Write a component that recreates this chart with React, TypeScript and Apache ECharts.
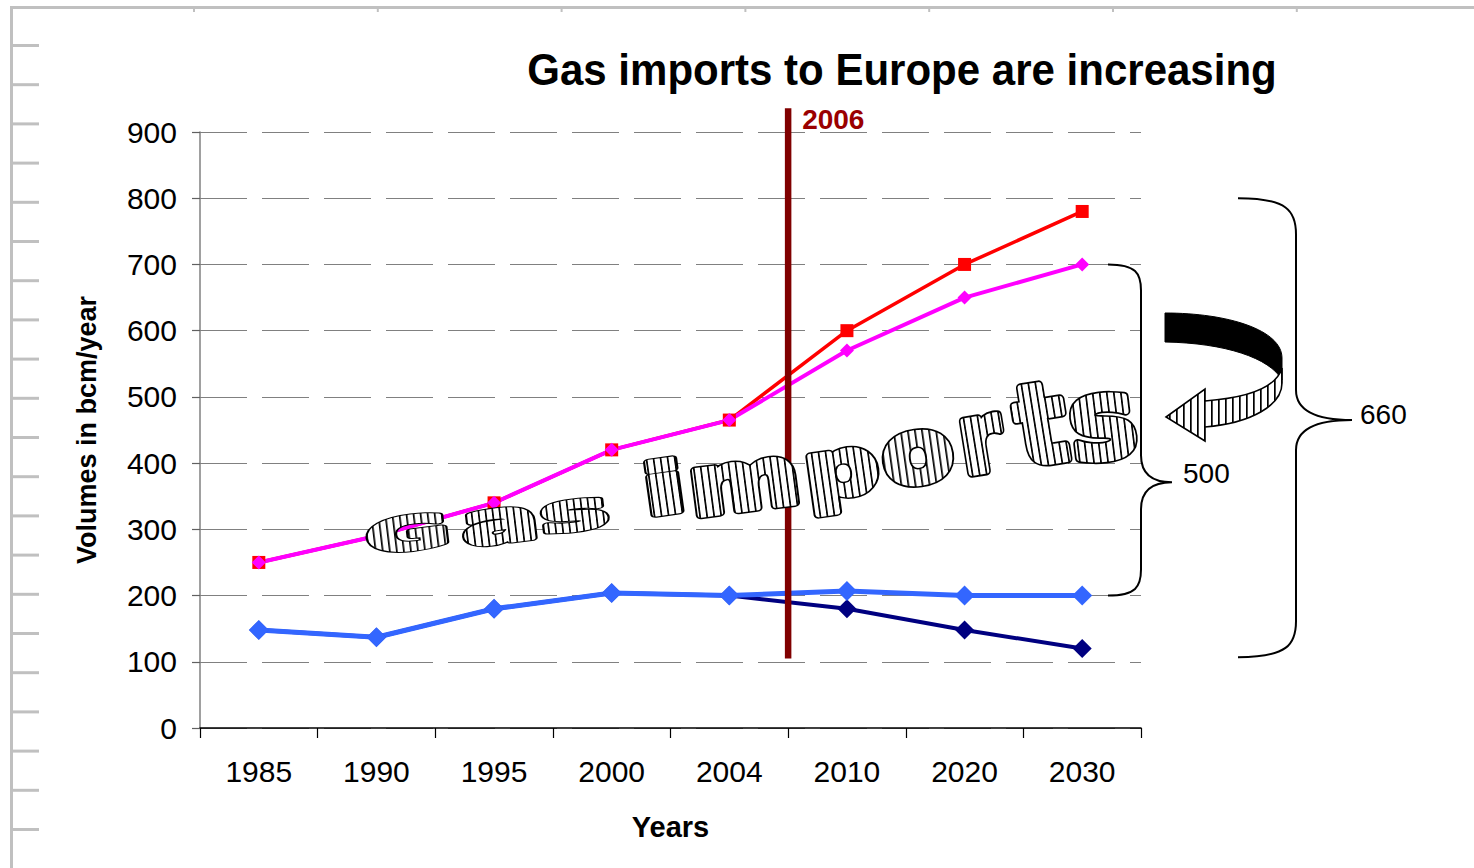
import React, { useEffect, useRef } from "react";
import * as echarts from "echarts";

// ---------- data ----------
const years = ["1985", "1990", "1995", "2000", "2004", "2010", "2020", "2030"];
const demandHigh = [250, 290, 340, 420, 465, 600, 700, 780]; // red squares
const demandLow = [250, 290, 340, 420, 465, 570, 650, 700]; // magenta diamonds
const productionLow = [148, 137, 180, 204, 200, 180, 148, 120]; // navy diamonds
const productionHigh = [148, 137, 180, 204, 200, 207, 200, 200]; // blue diamonds
const yMin = 0;
const yMax = 900;
const yInterval = 100;
const markerYear = "2006";
const markerRange = [105, 936]; // value span of the 2006 line
const innerBrace = { from: 200, to: 700, tip: 371, label: "500" };
const outerBrace = { from: 107, to: 800, tip: 465, label: "660" };
const titleText = "Gas imports to Europe are increasing";
const wordArt = "Gas imports";

// ---------- layout ----------
const W = 1474;
const H = 868;
const GL = 200;
const GT = 132;
const GW = 941;
const GH = 596;
const yPix = (v: number) => GT + GH * (1 - (v - yMin) / (yMax - yMin));
const catBoundary = (i: number) => GL + (GW / years.length) * i;

const FONT = "'Liberation Sans', Arial, sans-serif";
const SVGNS = "http://www.w3.org/2000/svg";

function bracePath(xEnd: number, xSpine: number, xTip: number, yTop: number, yBot: number, tipY: number, r: number, rt: number) {
  const dx = xSpine - xEnd;
  const dt = xTip - xSpine;
  return [
    `M${xEnd} ${yTop}`,
    `C${xEnd + dx * 0.85} ${yTop} ${xSpine} ${yTop + r * 0.35} ${xSpine} ${yTop + r}`,
    `L${xSpine} ${tipY - rt}`,
    `C${xSpine} ${tipY - rt * 0.3} ${xSpine + dt * 0.35} ${tipY} ${xTip} ${tipY}`,
    `C${xSpine + dt * 0.35} ${tipY} ${xSpine} ${tipY + rt * 0.3} ${xSpine} ${tipY + rt}`,
    `L${xSpine} ${yBot - r}`,
    `C${xSpine} ${yBot - r * 0.35} ${xEnd + dx * 0.85} ${yBot} ${xEnd} ${yBot}`,
  ].join(" ");
}

const innerD = bracePath(1108, 1141, 1172, yPix(innerBrace.to), yPix(innerBrace.from), yPix(innerBrace.tip), 26, 27);
const outerD = bracePath(1238, 1296, 1352, yPix(outerBrace.to), yPix(outerBrace.from), yPix(outerBrace.tip), 36, 30);
const arrowBackD = "M1165 313 C1228 313 1282 330 1282 358 L1282 380 C1270 358 1225 343 1165 342 Z";
const arrowFrontD =
  "M1282 368 C1276 388 1246 398 1205 401 L1205 389 L1166 417 L1205 441 L1205 427 C1252 423 1282 405 1282 383 Z";

echarts.graphic.registerShape("braceInner", echarts.graphic.extendPath(innerD, {}) as any);
echarts.graphic.registerShape("braceOuter", echarts.graphic.extendPath(outerD, {}) as any);
echarts.graphic.registerShape("arrowBack", echarts.graphic.extendPath(arrowBackD, {}) as any);
echarts.graphic.registerShape("arrowFront", echarts.graphic.extendPath(arrowFrontD, {}) as any);

const STRIPE = 7;
const STRIPE_INK = 1.7;
const stripeSvg = `<svg xmlns='http://www.w3.org/2000/svg' width='${STRIPE}' height='${STRIPE}'><rect width='${STRIPE}' height='${STRIPE}' fill='#ffffff'/><rect x='0' y='0' width='${STRIPE_INK}' height='${STRIPE}' fill='#000000'/></svg>`;
const stripeUrl = "data:image/svg+xml;charset=utf-8," + encodeURIComponent(stripeSvg);
const stripes = {
  image: stripeUrl,
  repeat: "repeat",
  imageWidth: STRIPE,
  imageHeight: STRIPE,
};

// per-letter placement of the word-art: [cx, cy, fontSize, scaleX, rotation]
const wordArtLayout: number[][] = [
  [408, 534, 44, 2.3, 0.12],
  [500, 522, 57, 2.0, 0.12],
  [574, 512, 51, 2.25, 0.12],
  [0, 0, 0, 0, 0],
  [664, 489, 70, 1.85, 0.14],
  [744, 481, 82, 1.31, 0.13],
  [841, 468, 78, 1.33, 0.14],
  [917, 452, 88, 1.18, 0.14],
  [980, 438, 95, 0.9, 0.16],
  [1041, 424, 110, 0.95, 0.16],
  [1102, 419, 110, 1.03, 0.12],
];
const letterKey = (i: number) => "#ffff" + (0xc0 + i).toString(16);
const haloKey = (i: number) => "#0000" + (0x10 + i).toString(16);
const OUTLINE = 9.5; // black halo (under layer)
const GROW = 6; // striped stroke thickening (upper layer)

function applyStripes(root: HTMLElement | null) {
  if (!root) return;
  const svg = root.querySelector("svg");
  if (!svg) return;
  let defs = svg.querySelector("#wa-defs") as SVGDefsElement | null;
  if (!defs) {
    defs = document.createElementNS(SVGNS, "defs") as SVGDefsElement;
    defs.setAttribute("id", "wa-defs");
    wordArtLayout.forEach((l, i) => {
      if (!l[3]) return;
      const sx = l[3];
      const p = document.createElementNS(SVGNS, "pattern");
      p.setAttribute("id", "wa-stripe-" + i);
      p.setAttribute("patternUnits", "userSpaceOnUse");
      p.setAttribute("width", String(STRIPE / sx));
      p.setAttribute("height", String(STRIPE));
      const bg = document.createElementNS(SVGNS, "rect");
      bg.setAttribute("width", String(STRIPE / sx));
      bg.setAttribute("height", String(STRIPE));
      bg.setAttribute("fill", "#ffffff");
      const st = document.createElementNS(SVGNS, "rect");
      st.setAttribute("width", String(STRIPE_INK / sx));
      st.setAttribute("height", String(STRIPE));
      st.setAttribute("fill", "#000000");
      p.appendChild(bg);
      p.appendChild(st);
      defs!.appendChild(p);
    });
    svg.insertBefore(defs, svg.firstChild);
  }
  svg.querySelectorAll("text").forEach((t) => {
    const f = (t.getAttribute("fill") || "").toLowerCase();
    wordArtLayout.forEach((l, i) => {
      if (!l[3]) return;
      if (f === letterKey(i)) {
        t.setAttribute("fill", `url(#wa-stripe-${i})`);
        t.setAttribute("stroke", `url(#wa-stripe-${i})`);
        t.setAttribute("stroke-width", String(GROW));
        t.setAttribute("vector-effect", "non-scaling-stroke");
        t.setAttribute("stroke-linejoin", "round");
      } else if (f === haloKey(i)) {
        t.setAttribute("fill", "#000000");
        t.setAttribute("stroke", "#000000");
        t.setAttribute("stroke-width", String(OUTLINE));
        t.setAttribute("vector-effect", "non-scaling-stroke");
        t.setAttribute("stroke-linejoin", "round");
      }
    });
  });
}

export default function App() {
  const ref = useRef<HTMLDivElement>(null);
  useEffect(() => {
    if (!ref.current) return;
    const chart = echarts.init(ref.current, null, { renderer: "svg" });

    const graphics: any[] = [];
    // slide frame / ruler
    const frame = "#c0c0c0";
    graphics.push({ type: "line", shape: { x1: 11.5, y1: 6, x2: 11.5, y2: H }, style: { stroke: frame, lineWidth: 3 } });
    graphics.push({ type: "line", shape: { x1: 10, y1: 7.5, x2: W, y2: 7.5 }, style: { stroke: frame, lineWidth: 3 } });
    for (let y = 45.5; y < H; y += 39.2) {
      graphics.push({ type: "line", shape: { x1: 11, y1: y, x2: 39, y2: y }, style: { stroke: frame, lineWidth: 3 } });
    }
    for (let x = 194; x < W; x += 183.8) {
      graphics.push({ type: "line", shape: { x1: x, y1: 7, x2: x, y2: 12 }, style: { stroke: frame, lineWidth: 2 } });
    }
    // title
    graphics.push({
      type: "text",
      x: 902,
      y: 70,
      scaleX: 0.955,
      style: { text: titleText, font: `bold 44px ${FONT}`, fill: "#000", textAlign: "center", textVerticalAlign: "middle", verticalAlign: "middle" },
    });
    // 2006 line
    const xm = catBoundary(5);
    graphics.push({
      type: "line",
      z: 50,
      shape: { x1: xm, y1: yPix(markerRange[1]), x2: xm, y2: yPix(markerRange[0]) },
      style: { stroke: "#800000", lineWidth: 6.5 },
    });
    graphics.push({
      type: "text",
      x: xm + 14,
      y: 119,
      z: 50,
      style: { text: markerYear, font: `bold 28px ${FONT}`, fill: "#9a0000", textAlign: "left", textVerticalAlign: "middle", verticalAlign: "middle" },
    });
    // word art: black halo layer, then striped layer
    wordArt.split("").forEach((ch, i) => {
      if (ch === " ") return;
      const [cx, cy, fs, sx, rot] = wordArtLayout[i];
      const common = {
        type: "text",
        x: cx,
        y: cy,
        rotation: rot,
        scaleX: sx,
      };
      graphics.push({
        ...common,
        z: 100,
        style: {
          text: ch,
          font: `bold ${fs}px 'DejaVu Sans', sans-serif`,
          fill: haloKey(i),
          stroke: "#000",
          lineWidth: 2,
          textAlign: "center",
          textVerticalAlign: "middle",
          verticalAlign: "middle",
        },
      });
      graphics.push({
        ...common,
        z: 101,
        style: {
          text: ch,
          font: `bold ${fs}px 'DejaVu Sans', sans-serif`,
          fill: letterKey(i),
          stroke: "#ffffff",
          lineWidth: 2,
          textAlign: "center",
          textVerticalAlign: "middle",
          verticalAlign: "middle",
        },
      });
    });
    // braces
    graphics.push({ type: "braceInner", x: 0, y: 0, z: 60, style: { fill: "none", stroke: "#000", lineWidth: 2 } });
    graphics.push({ type: "braceOuter", x: 0, y: 0, z: 60, style: { fill: "none", stroke: "#000", lineWidth: 2 } });
    graphics.push({
      type: "text",
      x: 1183,
      y: 473,
      z: 60,
      style: { text: innerBrace.label, font: `28px ${FONT}`, fill: "#000", textAlign: "left", textVerticalAlign: "middle", verticalAlign: "middle" },
    });
    graphics.push({
      type: "text",
      x: 1360,
      y: 414,
      z: 60,
      style: { text: outerBrace.label, font: `28px ${FONT}`, fill: "#000", textAlign: "left", textVerticalAlign: "middle", verticalAlign: "middle" },
    });
    // curved arrow
    graphics.push({ type: "arrowBack", x: 0, y: 0, z: 60, style: { fill: "#000", stroke: "#000", lineWidth: 1 } });
    graphics.push({ type: "arrowFront", x: 0, y: 0, z: 61, style: { fill: stripes, stroke: "#000", lineWidth: 1.6 } });

    chart.on("finished", () => applyStripes(ref.current));
    chart.setOption({
      animation: false,
      backgroundColor: "#ffffff",
      textStyle: { fontFamily: FONT },
      grid: { left: GL, top: GT, width: GW, height: GH, containLabel: false },
      xAxis: {
        type: "category",
        data: years,
        boundaryGap: true,
        name: "Years",
        nameLocation: "middle",
        nameGap: 84,
        nameTextStyle: { fontSize: 29, fontWeight: "bold", color: "#000", fontFamily: FONT },
        axisLine: { show: true, lineStyle: { color: "#000", width: 1.5 } },
        axisTick: { show: true, length: 10, interval: 0, lineStyle: { color: "#000", width: 1.2 } },
        axisLabel: { fontSize: 30, color: "#000", margin: 28, interval: 0, fontFamily: FONT },
        splitLine: { show: false },
      },
      yAxis: {
        type: "value",
        min: yMin,
        max: yMax,
        interval: yInterval,
        name: "Volumes in bcm/year",
        nameLocation: "middle",
        nameGap: 100,
        nameTextStyle: { fontSize: 27, fontWeight: "bold", color: "#000", fontFamily: FONT },
        axisLine: { show: true, lineStyle: { color: "#808080", width: 1.5 } },
        axisTick: { show: true, length: 8, lineStyle: { color: "#606060", width: 1.2 } },
        axisLabel: { fontSize: 30, color: "#000", margin: 23, fontFamily: FONT },
        splitLine: { show: true, lineStyle: { color: "#808080", width: 1, type: [47, 15] } },
      },
      series: [
        {
          type: "line",
          name: "Production (low)",
          data: productionLow,
          symbol: "diamond",
          symbolSize: 19,
          itemStyle: { color: "#000080" },
          lineStyle: { color: "#000080", width: 4 },
        },
        {
          type: "line",
          name: "Production (high)",
          data: productionHigh,
          symbol: "diamond",
          symbolSize: 20,
          itemStyle: { color: "#3366ff" },
          lineStyle: { color: "#3366ff", width: 5 },
        },
        {
          type: "line",
          name: "Demand (high)",
          data: demandHigh,
          symbol: "rect",
          symbolSize: 13,
          itemStyle: { color: "#ff0000" },
          lineStyle: { color: "#ff0000", width: 3.5 },
        },
        {
          type: "line",
          name: "Demand (low)",
          data: demandLow,
          symbol: "diamond",
          symbolSize: 14,
          itemStyle: { color: "#ff00ff" },
          lineStyle: { color: "#ff00ff", width: 4 },
        },
      ],
      graphic: graphics,
    });
    applyStripes(ref.current);
    const t1 = window.setTimeout(() => applyStripes(ref.current), 50);
    const t2 = window.setTimeout(() => applyStripes(ref.current), 300);
    return () => {
      window.clearTimeout(t1);
      window.clearTimeout(t2);
      chart.dispose();
    };
  }, []);
  return <div ref={ref} style={{ position: "absolute", left: 0, top: 0, width: W, height: H }} />;
}
